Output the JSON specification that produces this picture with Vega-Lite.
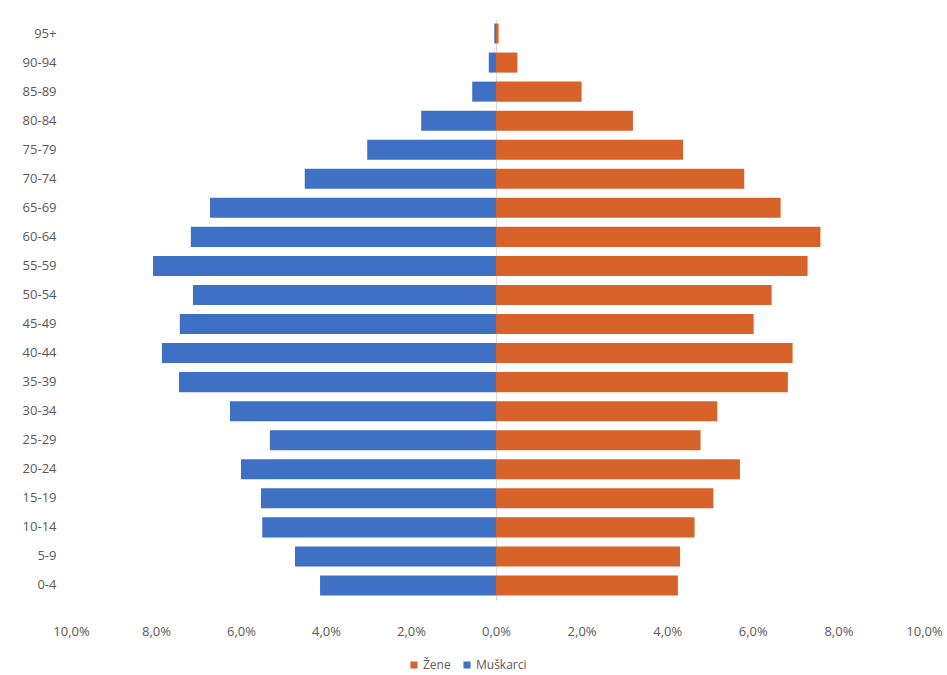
{
  "$schema": "https://vega.github.io/schema/vega-lite/v6.json",
  "padding": {"left": 22, "top": 19, "right": 0, "bottom": 0},
  "background": "white",
  "bounds": "flush",
  "data": {"values": [
    {"age": "95+", "sex": "Muškarci", "pct": 0.04}, {"age": "95+", "sex": "Žene", "pct": 0.06},
    {"age": "90-94", "sex": "Muškarci", "pct": 0.17}, {"age": "90-94", "sex": "Žene", "pct": 0.5},
    {"age": "85-89", "sex": "Muškarci", "pct": 0.56}, {"age": "85-89", "sex": "Žene", "pct": 2.0},
    {"age": "80-84", "sex": "Muškarci", "pct": 1.76}, {"age": "80-84", "sex": "Žene", "pct": 3.2},
    {"age": "75-79", "sex": "Muškarci", "pct": 3.03}, {"age": "75-79", "sex": "Žene", "pct": 4.37},
    {"age": "70-74", "sex": "Muškarci", "pct": 4.5}, {"age": "70-74", "sex": "Žene", "pct": 5.8},
    {"age": "65-69", "sex": "Muškarci", "pct": 6.73}, {"age": "65-69", "sex": "Žene", "pct": 6.65},
    {"age": "60-64", "sex": "Muškarci", "pct": 7.18}, {"age": "60-64", "sex": "Žene", "pct": 7.58},
    {"age": "55-59", "sex": "Muškarci", "pct": 8.07}, {"age": "55-59", "sex": "Žene", "pct": 7.28},
    {"age": "50-54", "sex": "Muškarci", "pct": 7.13}, {"age": "50-54", "sex": "Žene", "pct": 6.44},
    {"age": "45-49", "sex": "Muškarci", "pct": 7.44}, {"age": "45-49", "sex": "Žene", "pct": 6.02},
    {"age": "40-44", "sex": "Muškarci", "pct": 7.86}, {"age": "40-44", "sex": "Žene", "pct": 6.93},
    {"age": "35-39", "sex": "Muškarci", "pct": 7.46}, {"age": "35-39", "sex": "Žene", "pct": 6.82},
    {"age": "30-34", "sex": "Muškarci", "pct": 6.26}, {"age": "30-34", "sex": "Žene", "pct": 5.17},
    {"age": "25-29", "sex": "Muškarci", "pct": 5.32}, {"age": "25-29", "sex": "Žene", "pct": 4.78},
    {"age": "20-24", "sex": "Muškarci", "pct": 6.0}, {"age": "20-24", "sex": "Žene", "pct": 5.7},
    {"age": "15-19", "sex": "Muškarci", "pct": 5.53}, {"age": "15-19", "sex": "Žene", "pct": 5.08},
    {"age": "10-14", "sex": "Muškarci", "pct": 5.5}, {"age": "10-14", "sex": "Žene", "pct": 4.64},
    {"age": "5-9", "sex": "Muškarci", "pct": 4.73}, {"age": "5-9", "sex": "Žene", "pct": 4.3},
    {"age": "0-4", "sex": "Muškarci", "pct": 4.14}, {"age": "0-4", "sex": "Žene", "pct": 4.25}
  ]},
  "spacing": 0,
  "config": {
    "view": {"stroke": null},
    "axis": {"labelFont": "Open Sans", "labelColor": "#595959", "labelFontSize": 13, "grid": false, "ticks": false, "title": null, "labelFlush": false},
    "legend": {"labelFont": "Open Sans", "labelColor": "#595959", "labelFontSize": 12, "padding": 0}
  },
  "hconcat": [
    {
      "width": 425,
      "height": 581,
      "transform": [{"filter": "datum.sex === 'Muškarci'"}],
      "mark": {"type": "bar"},
      "encoding": {
        "y": {"field": "age", "type": "nominal", "sort": null,
          "scale": {"paddingInner": 0.31, "paddingOuter": 0.155},
          "axis": {"domain": false, "labelPadding": 15}},
        "x": {"field": "pct", "type": "quantitative",
          "scale": {"domain": [0, 10], "reverse": true, "nice": false},
          "axis": {"values": [0, 2, 4, 6, 8, 10], "domain": false, "labelPadding": 25,
            "labelExpr": "replace(format(datum.value, '.1f'), '.', ',') + '%'"}},
        "color": {"field": "sex", "type": "nominal",
          "scale": {"domain": ["Žene", "Muškarci"], "range": ["#D8632A", "#3E70C4"]},
          "legend": {"orient": "none", "legendX": 337, "legendY": 640, "direction": "horizontal", "title": null,
            "symbolType": "square", "symbolSize": 50, "columnPadding": 10, "labelOffset": 3}}
      }
    },
    {
      "width": 428,
      "height": 581,
      "transform": [{"filter": "datum.sex === 'Žene'"}],
      "mark": {"type": "bar"},
      "encoding": {
        "y": {"field": "age", "type": "nominal", "sort": null,
          "scale": {"paddingInner": 0.31, "paddingOuter": 0.155},
          "axis": {"labels": false, "domain": true, "domainColor": "#d9d9d9", "domainWidth": 1}},
        "x": {"field": "pct", "type": "quantitative",
          "scale": {"domain": [0, 10], "nice": false},
          "axis": {"values": [2, 4, 6, 8, 10], "domain": false, "labelPadding": 25,
            "labelExpr": "replace(format(datum.value, '.1f'), '.', ',') + '%'"}},
        "color": {"field": "sex", "type": "nominal",
          "scale": {"domain": ["Žene", "Muškarci"], "range": ["#D8632A", "#3E70C4"]}}
      }
    }
  ],
  "resolve": {"scale": {"color": "shared"}}
}
